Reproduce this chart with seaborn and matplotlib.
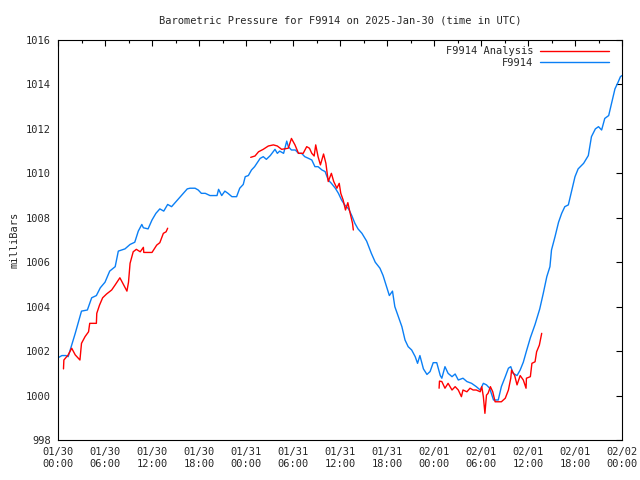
import pandas as pd
import matplotlib
matplotlib.use('Agg')
import matplotlib.pyplot as plt
import matplotlib.dates as mdates
from matplotlib.lines import Line2D
import seaborn as sns

# Data (hours after 2025-01-30 00:00 UTC, pressure in mb)
start = pd.Timestamp('2025-01-30 00:00')

station_hours = [0.0, 0.5, 1.0, 1.3, 1.6, 2.2, 2.6, 3.0, 3.75, 4.3, 4.9, 5.4, 6.0, 6.6, 7.3, 7.7,
                 8.55, 9.2, 9.8, 10.25, 10.7, 10.9, 11.5, 12.0, 12.5, 13.0, 13.5, 14.0, 14.5, 15.0,
                 15.5, 16.0, 16.5, 16.85, 17.5, 17.9, 18.3, 18.8, 19.4, 20.3, 20.5, 20.9, 21.3, 21.7,
                 22.2, 22.8, 23.2, 23.65, 23.9, 24.3, 24.7, 25.1, 25.8, 26.2, 26.6, 27.1, 27.7, 28.0,
                 28.3, 28.8, 29.2, 29.4, 29.8, 30.3, 30.7, 31.1, 31.5, 32.0, 32.4, 32.8, 33.2, 33.7,
                 34.1, 34.5, 34.9, 35.4, 35.8, 36.2, 36.6, 37.1, 37.5, 37.9, 38.3, 38.8, 39.4, 40.0,
                 40.5, 41.1, 41.5, 42.0, 42.3, 42.7, 43.0, 43.45, 43.9, 44.3, 44.7, 45.15, 45.6, 45.9,
                 46.2, 46.65, 47.1, 47.5, 47.9, 48.35, 48.8, 49.0, 49.4, 49.8, 50.3, 50.7, 51.1, 51.7,
                 52.2, 52.8, 53.4, 53.9, 54.3, 54.7, 55.1, 55.6, 56.2, 56.6, 57.1, 57.5, 57.8, 58.1,
                 58.6, 59.0, 59.4, 59.8, 60.3, 60.9, 61.5, 61.95, 62.4, 62.8, 63.0, 63.45, 63.9, 64.3,
                 64.7, 65.15, 65.6, 66.0, 66.4, 67.1, 67.7, 68.1, 68.6, 69.0, 69.4, 69.8, 70.3, 70.7,
                 71.1, 71.5, 71.8, 72.0]
station_mb = [1001.7, 1001.8, 1001.8, 1001.75, 1002.1, 1002.8, 1003.3, 1003.8, 1003.85, 1004.4,
              1004.5, 1004.85, 1005.1, 1005.6, 1005.8, 1006.5, 1006.6, 1006.8, 1006.9, 1007.4,
              1007.7, 1007.55, 1007.5, 1007.9, 1008.2, 1008.4, 1008.3, 1008.6, 1008.5, 1008.7,
              1008.9, 1009.1, 1009.3, 1009.33, 1009.33, 1009.25, 1009.1, 1009.1, 1009.0, 1009.0,
              1009.28, 1009.0, 1009.2, 1009.1, 1008.95, 1008.95, 1009.33, 1009.5, 1009.85, 1009.9,
              1010.15, 1010.3, 1010.67, 1010.75, 1010.63, 1010.8, 1011.08, 1010.9, 1011.0, 1010.9,
              1011.45, 1011.2, 1011.05, 1011.05, 1010.9, 1010.9, 1010.75, 1010.67, 1010.6, 1010.3,
              1010.3, 1010.15, 1010.08, 1009.7, 1009.55, 1009.33, 1009.1, 1008.8, 1008.58, 1008.4,
              1008.1, 1007.75, 1007.5, 1007.3, 1006.95, 1006.4, 1006.0, 1005.73, 1005.4, 1004.83,
              1004.5, 1004.7, 1004.0, 1003.55, 1003.1, 1002.5, 1002.2, 1002.05, 1001.75, 1001.45,
              1001.8, 1001.2, 1000.95, 1001.08, 1001.48, 1001.48, 1000.9, 1000.78, 1001.3, 1001.0,
              1000.85, 1000.97, 1000.7, 1000.78, 1000.63, 1000.55, 1000.4, 1000.25, 1000.55,
              1000.48, 1000.33, 999.8, 999.8, 1000.4, 1000.85, 1001.23, 1001.3, 1001.0, 1000.9,
              1001.15, 1001.5, 1002.0, 1002.6, 1003.2, 1003.9, 1004.6, 1005.35, 1005.8, 1006.55,
              1007.15, 1007.8, 1008.2, 1008.5, 1008.58, 1009.25, 1009.85, 1010.2, 1010.45, 1010.8,
              1011.65, 1012.0, 1012.1, 1011.95, 1012.47, 1012.6, 1013.2, 1013.8, 1014.1, 1014.35,
              1014.4]

# Analysis series comes in three separate runs
analysis1_hours = [0.7, 0.75, 1.3, 1.75, 2.2, 2.8, 3.0, 3.45, 3.9, 4.05, 4.9, 4.95, 5.3, 5.7, 6.2,
                   6.85, 7.3, 7.9, 8.8, 9.0, 9.2, 9.6, 10.0, 10.5, 10.9, 10.95, 12.0, 12.6, 13.0,
                   13.45, 13.8, 14.0]
analysis1_mb = [1001.2, 1001.6, 1001.83, 1002.13, 1001.83, 1001.6, 1002.35, 1002.65, 1002.87,
                1003.25, 1003.25, 1003.7, 1004.07, 1004.4, 1004.57, 1004.75, 1004.98, 1005.3,
                1004.7, 1005.1, 1005.95, 1006.47, 1006.58, 1006.47, 1006.67, 1006.44, 1006.44,
                1006.77, 1006.88, 1007.3, 1007.37, 1007.53]
analysis2_hours = [24.6, 25.15, 25.6, 26.2, 26.85, 27.5, 28.0, 28.55, 29.4, 29.8, 30.25, 30.7, 31.3,
                   31.75, 32.1, 32.4, 32.7, 32.9, 33.2, 33.5, 33.9, 34.2, 34.5, 34.9, 35.2, 35.6,
                   35.9, 36.1, 36.4, 36.7, 37.0, 37.3, 37.6, 37.7]
analysis2_mb = [1010.72, 1010.78, 1010.97, 1011.08, 1011.23, 1011.28, 1011.23, 1011.08, 1011.13,
                1011.57, 1011.28, 1010.9, 1010.9, 1011.2, 1011.13, 1010.9, 1010.78, 1011.28,
                1010.75, 1010.38, 1010.87, 1010.45, 1009.63, 1010.0, 1009.63, 1009.33, 1009.55,
                1009.1, 1008.8, 1008.35, 1008.68, 1008.2, 1007.75, 1007.45]
analysis3_hours = [48.65, 48.7, 49.0, 49.4, 49.8, 50.3, 50.7, 51.1, 51.5, 51.7, 52.2, 52.6, 53.0,
                   53.4, 53.9, 54.1, 54.3, 54.5, 54.7, 54.9, 55.2, 55.5, 55.8, 56.6, 57.1, 57.5,
                   57.8, 57.9, 58.3, 58.6, 59.0, 59.4, 59.75, 59.8, 60.3, 60.5, 60.9, 61.1, 61.45,
                   61.75]
analysis3_mb = [1000.33, 1000.65, 1000.63, 1000.33, 1000.55, 1000.25, 1000.4, 1000.25, 999.95,
                1000.25, 1000.17, 1000.33, 1000.25, 1000.25, 1000.17, 1000.4, 999.95, 999.2,
                1000.02, 1000.1, 1000.4, 1000.17, 999.72, 999.72, 999.88, 1000.25, 1000.78,
                1001.15, 1000.9, 1000.48, 1000.9, 1000.7, 1000.33, 1000.78, 1000.85, 1001.45,
                1001.52, 1001.97, 1002.27, 1002.8]

# Build data frames
station_df = pd.DataFrame({'time': start + pd.to_timedelta(station_hours, unit='h'),
                           'mb': station_mb})
parts = []
for seg, (hrs, vals) in enumerate([(analysis1_hours, analysis1_mb),
                                   (analysis2_hours, analysis2_mb),
                                   (analysis3_hours, analysis3_mb)]):
    parts.append(pd.DataFrame({'time': start + pd.to_timedelta(hrs, unit='h'),
                               'mb': vals, 'seg': seg}))
analysis_df = pd.concat(parts, ignore_index=True)

# Styling, gnuplot look
sns.set_style('white')
plt.rcParams['font.family'] = ['DejaVu Sans Mono']
plt.rcParams['font.size'] = 7.5

blue = '#0a7ff5'
red = '#ff0000'

fig = plt.figure(figsize=(6.4, 4.8), dpi=100)
ax = fig.add_axes([58 / 640, 40 / 480, 564 / 640, 400 / 480])

sns.lineplot(data=station_df, x='time', y='mb', color=blue, lw=1, estimator=None,
             sort=False, legend=False, ax=ax)
sns.lineplot(data=analysis_df, x='time', y='mb', units='seg', estimator=None, sort=False,
             color=red, lw=1, legend=False, ax=ax)

ax.set_xlim(start, start + pd.Timedelta(hours=72))
ax.set_ylim(998, 1016)
ax.set_yticks(range(998, 1017, 2))

ax.xaxis.set_major_locator(mdates.HourLocator(byhour=[0, 6, 12, 18]))
ax.xaxis.set_minor_locator(mdates.HourLocator(byhour=[3, 9, 15, 21]))
ax.xaxis.set_major_formatter(mdates.DateFormatter('%m/%d\n%H:%M'))

ax.tick_params(which='both', direction='in', top=True, right=True, color='black',
               labelsize=7.5, pad=5)
ax.tick_params(which='major', length=4, width=0.8)
ax.tick_params(which='minor', length=2, width=0.8)
for sp in ax.spines.values():
    sp.set_color('black')
    sp.set_linewidth(0.8)

ax.set_xlabel('')
ax.set_ylabel('milliBars', fontsize=7.5, labelpad=5)
ax.set_title('Barometric Pressure for F9914 on 2025-Jan-30 (time in UTC)', fontsize=7.5, pad=12)

handles = [Line2D([], [], color=red, lw=1), Line2D([], [], color=blue, lw=1)]
ax.legend(handles, ['F9914 Analysis', 'F9914'], loc='upper right',
          bbox_to_anchor=(1 - 7 / 564, 1), frameon=False,
          markerfirst=False, handlelength=6.6, handletextpad=0.65, labelspacing=0.15,
          borderaxespad=0.2, fontsize=7.5)

fig.savefig('out.png', dpi=100)
